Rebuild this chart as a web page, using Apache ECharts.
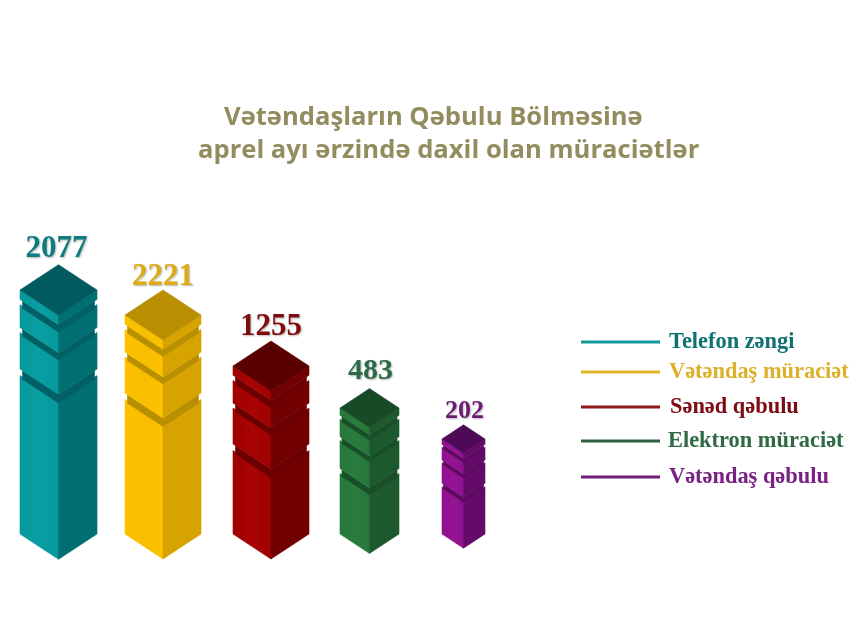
<!DOCTYPE html>
<html><head><meta charset="utf-8">
<style>html,body{margin:0;padding:0;background:#fff}#c{width:850px;height:637px}</style>
<script src="https://cdn.jsdelivr.net/npm/echarts@6/dist/echarts.min.js"></script>
</head><body><div id="c"></div>
<script>
// Data
const categories = ["Telefon zəngi","Vətəndaş müraciət","Sənəd qəbulu","Elektron müraciət","Vətəndaş qəbulu"];
const values = [2077,2221,1255,483,202];
// drawn column heights (the columns are not drawn to value scale)
const columnHeights = [244,219,168,126,95];
const titleLines = ["Vətəndaşların Qəbulu Bölməsinə","aprel ayı ərzində daxil olan müraciətlər"];

// Layout and style (separate from data)
const halfWidths = [38.5,38,38,29.5,21.5];
const xOffsets = [0,3.5,10.5,8,1];
const labelDx = [-2,0,0,1,1];
const labelGap = [16,13,14,17,14];
const labelSize = [31,31,31,30,26];
const legendTops = [342,372,407,441,477];
const legendTextDx = [4,4,5,3,4];
const palette = [
 {l:'#05989c',l2:'#0a9fa2',r:'#006f72',t:'#005a5e',s:'#016065',txt:'#0f7c80',leg:'#0f7272',line:'#139a9c'},
 {l:'#fdc300',l2:'#f7bd00',r:'#d6a300',t:'#b98e00',s:'#b98f02',txt:'#dcab16',leg:'#dcb028',line:'#e0b428'},
 {l:'#a00000',l2:'#a80404',r:'#720000',t:'#5a0000',s:'#6b0000',txt:'#800d0d',leg:'#7c0c12',line:'#8e1a1e'},
 {l:'#27773b',l2:'#2a7c3e',r:'#1c5a2e',t:'#174a26',s:'#184f29',txt:'#2d6b48',leg:'#2f6a45',line:'#2f5f42'},
 {l:'#8e108d',l2:'#951494',r:'#640a68',t:'#4e0a56',s:'#5c0a60',txt:'#6d1a75',leg:'#7a2184',line:'#701f78'}
];
const slope = 25/38;
const tiers = [[84.5,null],[42,78],[14.5,37],[0,9.3]]; // offsets at full column width

function renderItem(params, api){
  const i = api.value(0), h = api.value(1), p = palette[i];
  const base = api.coord([i,0]), top = api.coord([i,h]);
  const cx = base[0]+xOffsets[i], hw = halfWidths[i], k = hw/38, d = hw*slope;
  const yB = base[1], yT = top[1];
  const L = cx-hw, R = cx+hw;
  const kids = [];
  const poly = (pts,fill,stroke)=>kids.push({type:'polygon',shape:{points:pts},style:{fill:fill,stroke:stroke||fill,lineWidth:0.6}});
  const leftFill = {type:'linear',x:0,y:0,x2:1,y2:0,colorStops:[{offset:0,color:p.l},{offset:.5,color:p.l2},{offset:1,color:p.l}]};
  tiers.forEach((t,n)=>{
    const y1 = yT+t[0]*k, y2 = t[1]===null? yB : yT+t[1]*k;
    poly([[L,y1],[cx,y1+d],[cx,y2+d],[L,y2]],leftFill,p.l);
    poly([[R,y1],[cx,y1+d],[cx,y2+d],[R,y2]],p.r);
    if(n<3){
      // shadow cast on this tier by the tier above, with corner notches
      const above = tiers[n+1][1], ya = yT+above*k;
      const ins = 2.5*k, o = ins*slope;
      poly([[L+ins,ya+o],[cx,ya+d],[cx,y1+d+2*k],[L+ins,y1+o+2*k]],p.s);
      poly([[R-ins,ya+o],[cx,ya+d],[cx,y1+d+2*k],[R-ins,y1+o+2*k]],p.s);
    }
  });
  poly([[cx,yT-d],[R,yT],[cx,yT+d],[L,yT]],p.t);
  kids.push({type:'text',style:{
    text:String(values[i]),x:cx+labelDx[i],y:yT-d-labelGap[i],align:'center',verticalAlign:'middle',
    fill:p.txt,font:'bold '+labelSize[i]+'px "Liberation Serif"',
    textShadowColor:'rgba(90,90,90,.45)',textShadowBlur:2,textShadowOffsetX:1,textShadowOffsetY:1}});
  return {type:'group',children:kids};
}

const chart = echarts.init(document.getElementById('c'),null,{renderer:'canvas'});
chart.setOption({
  animation:false,
  backgroundColor:'#fff',
  title:titleLines.map((t,i)=>({text:t,left:[224,198][i],top:[103,136][i],padding:0,
    textStyle:{color:'#928c5e',fontFamily:'Open Sans',fontWeight:'bold',fontSize:25.6,lineHeight:30}})),
  grid:{left:8,width:505,top:0,bottom:103},
  xAxis:{type:'category',data:categories,show:false},
  yAxis:{type:'value',min:0,max:534,show:false},
  legend:categories.map((c,i)=>({
    data:[c],left:581,top:legendTops[i]-12,orient:'horizontal',padding:0,
    itemWidth:79,itemHeight:3,icon:'rect',selectedMode:false,
    textStyle:{color:palette[i].leg,fontFamily:'Liberation Serif',fontWeight:'bold',fontSize:22.4,lineHeight:24,padding:[0,0,0,legendTextDx[i]]}
  })),
  series:categories.map((c,i)=>({
    type:'custom',name:c,coordinateSystem:'cartesian2d',renderItem:renderItem,clip:false,
    itemStyle:{color:palette[i].line},
    encode:{x:0,y:1},
    data:[[i,columnHeights[i]]]
  }))
});
</script></body></html>
